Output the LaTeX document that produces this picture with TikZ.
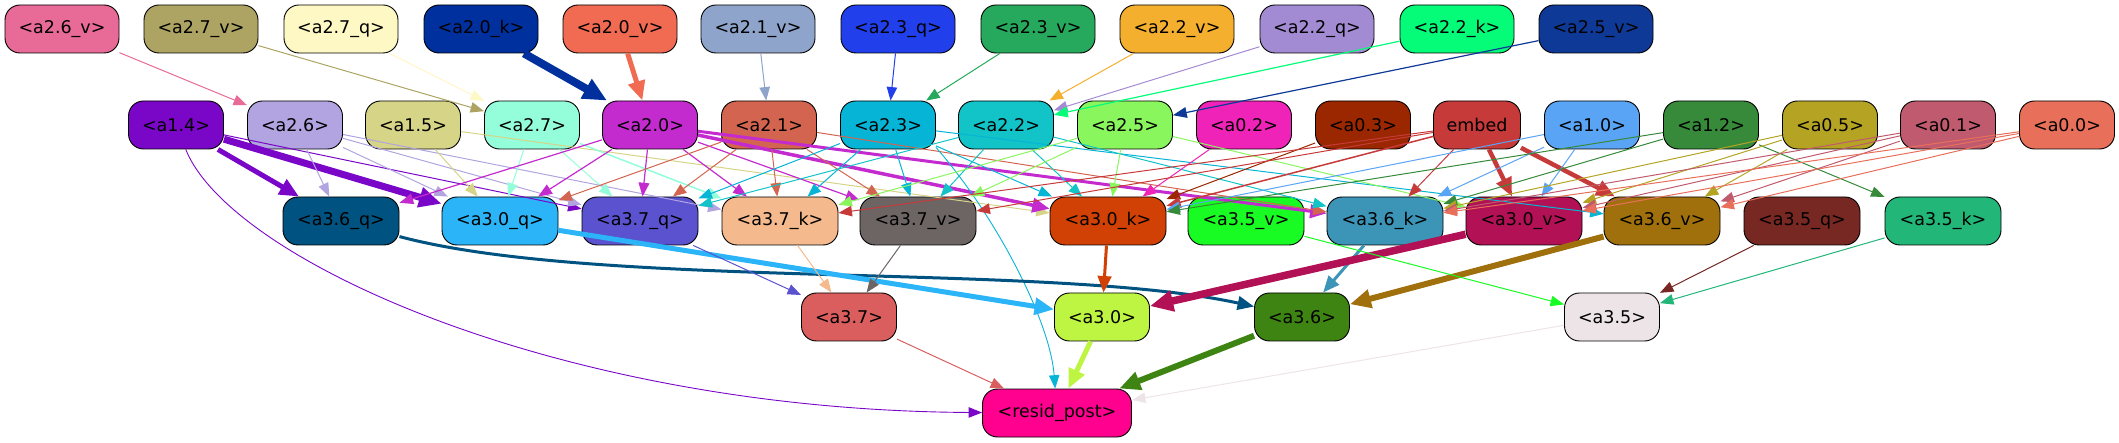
\documentclass[tikz,border=0pt]{standalone}
\usepackage{fontspec}
\setmainfont{DejaVu Sans}
\usetikzlibrary{arrows.meta}
\definecolor{cv26}{HTML}{E86A96}
\definecolor{cv27}{HTML}{ADA463}
\definecolor{cq27}{HTML}{FDF8C4}
\definecolor{ck20}{HTML}{00309E}
\definecolor{cv20}{HTML}{F06B52}
\definecolor{cv21}{HTML}{8FA4CA}
\definecolor{cq23}{HTML}{2140EB}
\definecolor{cv23}{HTML}{26A95C}
\definecolor{cv22}{HTML}{F5AF2F}
\definecolor{cq22}{HTML}{A38BD4}
\definecolor{ck22}{HTML}{05FC79}
\definecolor{cv25}{HTML}{0F3996}
\definecolor{cn14}{HTML}{7A07C8}
\definecolor{cn26}{HTML}{B1A4E0}
\definecolor{cn15}{HTML}{D6D487}
\definecolor{cn27}{HTML}{93FED9}
\definecolor{cn20}{HTML}{C42BCE}
\definecolor{cn21}{HTML}{D36550}
\definecolor{cn23}{HTML}{06B4D6}
\definecolor{cn22}{HTML}{12C3C8}
\definecolor{cn25}{HTML}{8AF65E}
\definecolor{cn02}{HTML}{F023B9}
\definecolor{cn03}{HTML}{9A2700}
\definecolor{cemb}{HTML}{C73A3A}
\definecolor{cn10}{HTML}{5AA4F5}
\definecolor{cn12}{HTML}{368A3A}
\definecolor{cn05}{HTML}{B5A424}
\definecolor{cn01}{HTML}{C05A6E}
\definecolor{cn00}{HTML}{E8705A}
\definecolor{cq36}{HTML}{005380}
\definecolor{cq30}{HTML}{2BB5F8}
\definecolor{cq37}{HTML}{5B52CF}
\definecolor{ck37}{HTML}{F4B98D}
\definecolor{cv37}{HTML}{6C6564}
\definecolor{ck30}{HTML}{D14105}
\definecolor{cv35}{HTML}{18FC24}
\definecolor{ck36}{HTML}{3C94B7}
\definecolor{cv30}{HTML}{B31155}
\definecolor{cv36}{HTML}{A0700C}
\definecolor{cq35}{HTML}{782822}
\definecolor{ck35}{HTML}{22B678}
\definecolor{cm37}{HTML}{DA5E5E}
\definecolor{cm30}{HTML}{BEF543}
\definecolor{cm36}{HTML}{3E8412}
\definecolor{cm35}{HTML}{EDE4E8}
\definecolor{cres}{HTML}{FF008F}
\newcommand\edgeline[4]{\draw[edg={#3}{#4}] (#1) -- (#2);}
\begin{document}
\begin{tikzpicture}[x=1pt,y=-1pt,
  nd/.style={draw=black, line width=0.9pt, rounded corners=15pt, minimum height=48pt, inner sep=0pt, font=\fontsize{17.5}{20}\selectfont, text=black},
  wa/.style={nd, minimum width=114pt},
  wb/.style={nd, minimum width=95pt},
  wc/.style={nd, minimum width=116pt},
  edg/.style 2 args={draw=#1, line width=#2pt, -{Triangle[length=12pt 1.5, width=9pt 1.5]}}]
\useasboundingbox (0,0) rectangle (2119,443);
% row 1
\node[wa, fill=cv26] (v26) at (62,29) {<a2.6\_v>};
\node[wa, fill=cv27] (v27) at (201,29) {<a2.7\_v>};
\node[wa, fill=cq27] (q27) at (341,29) {<a2.7\_q>};
\node[wa, fill=ck20] (k20) at (481,29) {<a2.0\_k>};
\node[wa, fill=cv20] (v20) at (620,29) {<a2.0\_v>};
\node[wa, fill=cv21] (v21) at (758,29) {<a2.1\_v>};
\node[wa, fill=cq23] (q23) at (898,29) {<a2.3\_q>};
\node[wa, fill=cv23] (v23) at (1038,29) {<a2.3\_v>};
\node[wa, fill=cv22] (v22) at (1177,29) {<a2.2\_v>};
\node[wa, fill=cq22] (q22) at (1317,29) {<a2.2\_q>};
\node[wa, fill=ck22] (k22) at (1457,29) {<a2.2\_k>};
\node[wa, fill=cv25] (v25) at (1596,29) {<a2.5\_v>};
% row 2
\node[wb, fill=cn14] (n14) at (176,125) {<a1.4>};
\node[wb, fill=cn26] (n26) at (295,125) {<a2.6>};
\node[wb, fill=cn15] (n15) at (413,125) {<a1.5>};
\node[wb, fill=cn27] (n27) at (532,125) {<a2.7>};
\node[wb, fill=cn20] (n20) at (650,125) {<a2.0>};
\node[wb, fill=cn21] (n21) at (769,125) {<a2.1>};
\node[wb, fill=cn23] (n23) at (888,125) {<a2.3>};
\node[wb, fill=cn22] (n22) at (1006,125) {<a2.2>};
\node[wb, fill=cn25] (n25) at (1125,125) {<a2.5>};
\node[wb, fill=cn02] (n02) at (1244,125) {<a0.2>};
\node[wb, fill=cn03] (n03) at (1363,125) {<a0.3>};
\node[nd, minimum width=87pt, fill=cemb] (emb) at (1477,125) {embed};
\node[wb, fill=cn10] (n10) at (1592,125) {<a1.0>};
\node[wb, fill=cn12] (n12) at (1711,125) {<a1.2>};
\node[wb, fill=cn05] (n05) at (1830,125) {<a0.5>};
\node[wb, fill=cn01] (n01) at (1948,125) {<a0.1>};
\node[wb, fill=cn00] (n00) at (2067,125) {<a0.0>};
% row 3
\node[wc, fill=cq36] (q36) at (341,221) {<a3.6\_q>};
\node[wc, fill=cq30] (q30) at (500,221) {<a3.0\_q>};
\node[wc, fill=cq37] (q37) at (640,221) {<a3.7\_q>};
\node[wc, fill=ck37] (k37) at (780,221) {<a3.7\_k>};
\node[wc, fill=cv37] (v37) at (918,221) {<a3.7\_v>};
\node[wc, fill=ck30] (k30) at (1108,221) {<a3.0\_k>};
\node[wc, fill=cv35] (v35) at (1246,221) {<a3.5\_v>};
\node[wc, fill=ck36] (k36) at (1385,221) {<a3.6\_k>};
\node[wc, fill=cv30] (v30) at (1524,221) {<a3.0\_v>};
\node[wc, fill=cv36] (v36) at (1662,221) {<a3.6\_v>};
\node[wc, fill=cq35] (q35) at (1802,221) {<a3.5\_q>};
\node[wc, fill=ck35] (k35) at (1943,221) {<a3.5\_k>};
% row 4
\node[wb, fill=cm37] (m37) at (849,317) {<a3.7>};
\node[wb, fill=cm30] (m30) at (1102,317) {<a3.0>};
\node[wb, fill=cm36] (m36) at (1302,317) {<a3.6>};
\node[wb, fill=cm35] (m35) at (1612,317) {<a3.5>};
% row 5
\node[nd, minimum width=149pt, fill=cres] (res) at (1057,413) {<resid\_post>};
% edges row1 -> row2
\edgeline{v26}{n26}{cv26}{1}
\edgeline{v27}{n27}{cv27}{1}
\edgeline{q27}{n27}{cq27}{1}
\edgeline{k20}{n20}{ck20}{8}
\edgeline{v20}{n20}{cv20}{5}
\edgeline{v21}{n21}{cv21}{1}
\edgeline{q23}{n23}{cq23}{1}
\edgeline{v23}{n23}{cv23}{1}
\edgeline{v22}{n22}{cv22}{1}
\edgeline{q22}{n22}{cq22}{1}
\edgeline{k22}{n22}{ck22}{1.2}
\edgeline{v25}{n25}{cv25}{1.2}
% row2 -> row3
\edgeline{n14}{q36}{cn14}{5}
\edgeline{n14}{q30}{cn14}{7}
\edgeline{n14}{q37}{cn14}{1}
\draw[edg={cn14}{0.9}] (n14) .. controls (230,260) and (560,410) .. (res);
\edgeline{n26}{q36}{cn26}{1}
\edgeline{n26}{q30}{cn26}{1}
\edgeline{n26}{q37}{cn26}{1}
\edgeline{n26}{k37}{cn26}{1}
\edgeline{n15}{q30}{cn15}{1}
\edgeline{n15}{k30}{cn15}{1}
\edgeline{n27}{q30}{cn27}{1}
\edgeline{n27}{q37}{cn27}{1}
\edgeline{n27}{k37}{cn27}{1.5}
\edgeline{n20}{q36}{cn20}{1.2}
\edgeline{n20}{q30}{cn20}{1.2}
\edgeline{n20}{q37}{cn20}{1.2}
\edgeline{n20}{k37}{cn20}{1.2}
\edgeline{n20}{v37}{cn20}{1.2}
\edgeline{n20}{k30}{cn20}{3.5}
\edgeline{n20}{k36}{cn20}{3}
\edgeline{n21}{q30}{cn21}{1}
\edgeline{n21}{q37}{cn21}{1}
\edgeline{n21}{k37}{cn21}{1}
\edgeline{n21}{v37}{cn21}{1}
\edgeline{n21}{k36}{cn21}{1}
\edgeline{n23}{q37}{cn23}{1}
\edgeline{n23}{k37}{cn23}{1}
\edgeline{n23}{v37}{cn23}{1}
\edgeline{n23}{k30}{cn23}{1}
\edgeline{n23}{v36}{cn23}{1}
\draw[edg={cn23}{0.9}] (n23.-25) .. controls (995,215) and (1050,320) .. (res);
\edgeline{n22}{q37}{cn22}{1}
\edgeline{n22}{v37}{cn22}{1}
\edgeline{n22}{k30}{cn22}{1}
\edgeline{n22}{k36}{cn22}{1}
\edgeline{n25}{k37}{cn25}{1}
\edgeline{n25}{v37}{cn25}{1}
\edgeline{n25}{k30}{cn25}{1}
\edgeline{n25}{v30}{cn25}{1}
\edgeline{n02}{k30}{cn02}{1}
\edgeline{n03}{k30}{cn03}{1}
\edgeline{emb}{k37}{cemb}{1}
\edgeline{emb}{v37}{cemb}{1}
\edgeline{emb}{k30}{cemb}{1.5}
\edgeline{emb}{k36}{cemb}{1}
\edgeline{emb}{v30}{cemb}{4.5}
\edgeline{emb}{v36}{cemb}{4.5}
\edgeline{n10}{k30}{cn10}{1}
\edgeline{n10}{k36}{cn10}{1}
\edgeline{n10}{v30}{cn10}{1}
\edgeline{n12}{k30}{cn12}{1}
\edgeline{n12}{k36}{cn12}{1}
\edgeline{n12}{k35}{cn12}{1}
\edgeline{n05}{k36}{cn05}{1}
\edgeline{n05}{v30}{cn05}{1}
\edgeline{n05}{v36}{cn05}{1}
\edgeline{n01}{k36}{cn01}{1}
\edgeline{n01}{v30}{cn01}{1}
\edgeline{n01}{v36}{cn01}{1}
\edgeline{n00}{k36}{cn00}{1}
\edgeline{n00}{v30}{cn00}{1}
\edgeline{n00}{v36}{cn00}{1}
% row3 -> row4
\draw[edg={cq36}{3}] (q36) .. controls (600,290) and (1050,262) .. (m36);
\edgeline{q30}{m30}{cq30}{5}
\edgeline{q37}{m37}{cq37}{1}
\edgeline{k37}{m37}{ck37}{1}
\edgeline{v37}{m37}{cv37}{1}
\edgeline{k30}{m30}{ck30}{3}
\edgeline{k36}{m36}{ck36}{3}
\edgeline{v30}{m30}{cv30}{7.5}
\edgeline{v36}{m36}{cv36}{6}
\edgeline{v35}{m35}{cv35}{1}
\edgeline{q35}{m35}{cq35}{1}
\edgeline{k35}{m35}{ck35}{1}
% row4 -> res
\edgeline{m37}{res}{cm37}{1}
\edgeline{m30}{res}{cm30}{5}
\edgeline{m36}{res}{cm36}{6}
\edgeline{m35}{res}{cm35}{1}
\end{tikzpicture}
\end{document}
